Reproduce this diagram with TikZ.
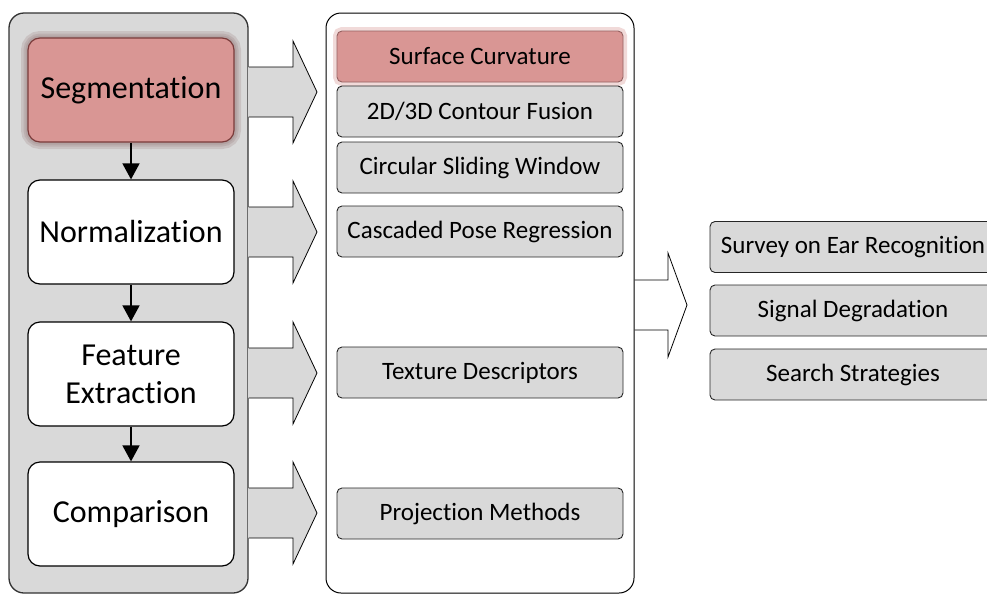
\documentclass[tikz,border=0pt]{standalone}
\usepackage{fontspec}
\setmainfont{Carlito}[Ligatures={NoCommon,NoDiscretionary}]
\usetikzlibrary{arrows.meta,calc}
\definecolor{panelgray}{HTML}{D9D9D9}
\definecolor{redfill}{HTML}{D99694}
\definecolor{redline}{HTML}{7A3B3A}
\definecolor{glowc}{HTML}{8C6A6A}
\begin{document}
\begin{tikzpicture}[x=1pt,y=-1pt,
  panel/.style={draw=black!80, line width=1.3pt, rounded corners=15pt, minimum width=239pt, minimum height=580pt},
  bigbox/.style={draw=black, line width=1.2pt, rounded corners=12pt, fill=white, minimum width=206pt, minimum height=104pt, align=center, inner sep=0pt, font=\fontsize{32}{38}\selectfont},
  smallbox/.style={draw=black!85, line width=0.9pt, rounded corners=5pt, fill=panelgray, minimum width=286pt, minimum height=51pt, inner sep=0pt, font=\fontsize{25}{30}\selectfont},
  redbox/.style={fill=redfill, draw=redline},
  glow/.style={preaction={draw=glowc, line width=#1, opacity=0.2}},
  flow/.style={line width=1.5pt, -{Triangle[length=16pt,width=17pt]}},
]
\useasboundingbox (0,0) rectangle (987,595);
% panels
\node[panel, fill=panelgray] (left) at (128.5,303) {};
\node[panel, draw=black, line width=1pt, fill=white, minimum width=308pt] (mid) at (480,303) {};

% left column
\node[bigbox, redbox, glow=14pt, glow=9pt, glow=5pt] (seg) at (131,90) {Segmentation};
\node[bigbox] (norm) at (131,232) {Normalization};
\node[bigbox] (feat) at (131,374) {Feature\\Extraction};
\node[bigbox] (comp) at (131,514) {Comparison};
\draw[flow] (seg) -- (norm);
\draw[flow] (norm) -- (feat);
\draw[flow] (feat) -- (comp);

% middle column
\node[smallbox, redbox, draw=redline!80, preaction={draw=redfill, line width=8pt, opacity=0.35}] (surf) at (480,56.5) {Surface Curvature};
\node[smallbox] (fusion) at (480,111.5) {2D/3D Contour Fusion};
\node[smallbox] (circ) at (480,167.5) {Circular Sliding Window};
\node[smallbox] (casc) at (480,231.5) {Cascaded Pose Regression};
\node[smallbox] (tex) at (480,372.5) {Texture Descriptors};
\node[smallbox] (proj) at (480,513.5) {Projection Methods};

% right column
\node[smallbox] (survey) at (853,247) {Survey on Ear Recognition};
\node[smallbox] (signal) at (853,310.5) {Signal Degradation};
\node[smallbox] (search) at (853,374.5) {Search Strategies};

% block arrows from left panel to middle panel
\foreach \c/\y in {seg/92, norm/232, feat/373, comp/513}{
  \coordinate (s) at (left.east |- 0,\y);
  \fill[panelgray] ($(s)+(-0.6,-25)$) -- (293,\y-25) -- (293,\y-51) -- (317,\y) -- (293,\y+51) -- (293,\y+25) -- ($(s)+(-0.6,25)$) -- cycle;
  \draw[line width=0.8pt, line join=miter] ($(s)+(0,-25)$) -- (293,\y-25) -- (293,\y-51) -- (317,\y) -- (293,\y+51) -- (293,\y+25) -- ($(s)+(0,25)$);
}
% block arrow from middle panel to right column
\coordinate (r) at (mid.east |- 0,305);
\fill[white] ($(r)+(0.5,-25)$) -- (668,280) -- (668,253) -- (687,305) -- (668,357) -- (668,330) -- ($(r)+(0.5,25)$) -- cycle;
\draw[line width=0.8pt, line join=miter] ($(r)+(0,-25)$) -- (668,280) -- (668,253) -- (687,305) -- (668,357) -- (668,330) -- ($(r)+(0,25)$);
\end{tikzpicture}
\end{document}
